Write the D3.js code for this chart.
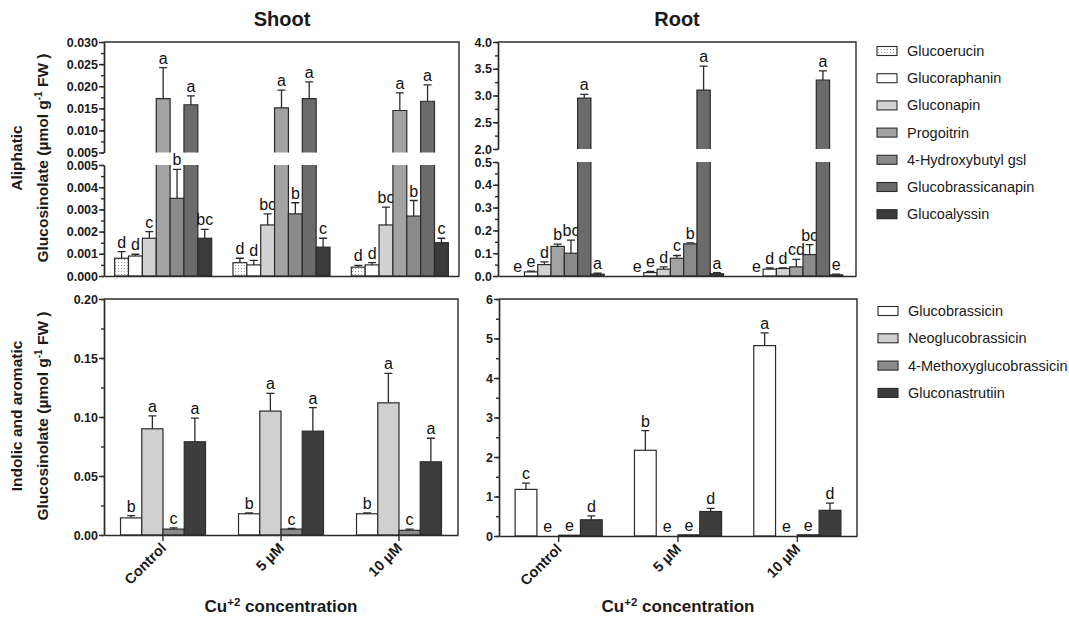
<!DOCTYPE html>
<html>
<head>
<meta charset="utf-8">
<script src="https://cdn.jsdelivr.net/npm/d3@7"></script>
<style>
body { margin: 0; background: #fff; }
svg { font-family: "Liberation Sans", Arial, sans-serif; }
</style>
</head>
<body>
<svg id="chart" width="1069" height="618"></svg>
<script>
var treatments = ["Control", "5 µM", "10 µM"];

var aliphaticNames = ["Glucoerucin", "Glucoraphanin", "Gluconapin", "Progoitrin",
    "4-Hydroxybutyl gsl", "Glucobrassicanapin", "Glucoalyssin"];
var indolicNames = ["Glucobrassicin", "Neoglucobrassicin", "4-Methoxyglucobrassicin", "Gluconastrutiin"];

// shoot, aliphatic (umol/g FW), one row per treatment
var shootAliMean = [
    [0.0008, 0.0009, 0.0017, 0.0172, 0.0035, 0.0158, 0.0017],
    [0.0006, 0.0005, 0.0023, 0.0151, 0.0028, 0.0172, 0.0013],
    [0.0004, 0.0005, 0.0023, 0.0145, 0.0027, 0.0166, 0.0015]
];
var shootAliErr = [
    [0.0003, 0.00008, 0.0003, 0.007, 0.0013, 0.002, 0.0004],
    [0.0002, 0.0002, 0.0005, 0.004, 0.0005, 0.0038, 0.0004],
    [0.00008, 0.0001, 0.0008, 0.004, 0.0007, 0.0037, 0.0002]
];
var shootAliLetters = [
    ["d", "d", "c", "a", "b", "a", "bc"],
    ["d", "d", "bc", "a", "b", "a", "c"],
    ["d", "d", "bc", "a", "b", "a", "c"]
];

// root, aliphatic
var rootAliMean = [
    [0, 0.018, 0.05, 0.13, 0.10, 2.95, 0.008],
    [0, 0.015, 0.03, 0.078, 0.141, 3.10, 0.01],
    [0, 0.03, 0.033, 0.04, 0.094, 3.29, 0.005]
];
var rootAliErr = [
    [0, 0.003, 0.012, 0.01, 0.057, 0.07, 0.004],
    [0, 0.005, 0.01, 0.012, 0.004, 0.45, 0.005],
    [0, 0.005, 0.002, 0.033, 0.044, 0.17, 0.003]
];
var rootAliLetters = [
    ["e", "e", "d", "b", "bc", "a", "a"],
    ["e", "e", "d", "c", "b", "a", "a"],
    ["e", "d", "d", "cd", "bc", "a", "e"]
];

// shoot, indolic and aromatic
var shootIndMean = [
    [0.0145, 0.090, 0.005, 0.079],
    [0.018, 0.105, 0.005, 0.088],
    [0.018, 0.112, 0.004, 0.062]
];
var shootIndErr = [
    [0.002, 0.011, 0.001, 0.02],
    [0.0007, 0.015, 0.0005, 0.02],
    [0.0007, 0.025, 0.001, 0.02]
];
var shootIndLetters = [
    ["b", "a", "c", "a"],
    ["b", "a", "c", "a"],
    ["b", "a", "c", "a"]
];

// root, indolic and aromatic
var rootIndMean = [
    [1.18, 0, 0.02, 0.41],
    [2.17, 0, 0.03, 0.62],
    [4.82, 0, 0.03, 0.65]
];
var rootIndErr = [
    [0.16, 0, 0, 0.1],
    [0.5, 0, 0, 0.08],
    [0.32, 0, 0, 0.18]
];
var rootIndLetters = [
    ["c", "e", "e", "d"],
    ["b", "e", "e", "d"],
    ["a", "e", "e", "d"]
];

// axis tick labels
var shootAliLowTicks = [0, 0.001, 0.002, 0.003, 0.004, 0.005];
var shootAliHighTicks = [0.005, 0.010, 0.015, 0.020, 0.025, 0.030];
var rootAliLowTicks = [0, 0.1, 0.2, 0.3, 0.4, 0.5];
var rootAliHighTicks = [2.0, 2.5, 3.0, 3.5, 4.0];
var shootIndTicks = [0, 0.05, 0.10, 0.15, 0.20];
var rootIndTicks = [0, 1, 2, 3, 4, 5, 6];

var aliColor = d3.scaleOrdinal()
    .domain(aliphaticNames)
    .range(["url(#dots)", "#ffffff", "#d2d2d2", "#a3a3a3", "#8a8a8a", "#6b6b6b", "#3b3b3b"]);
var indColor = d3.scaleOrdinal()
    .domain(indolicNames)
    .range(["#ffffff", "#d0d0d0", "#8b8b8b", "#3d3d3d"]);

var ink = "#2b2b2b";

var svg = d3.select("#chart");

var defs = svg.append("defs");
var pat = defs.append("pattern")
    .attr("id", "dots")
    .attr("width", 3)
    .attr("height", 3)
    .attr("patternUnits", "userSpaceOnUse");
pat.append("rect").attr("width", 3).attr("height", 3).attr("fill", "#fff");
pat.append("rect").attr("x", 1).attr("y", 1).attr("width", 1).attr("height", 1).attr("fill", "#9a9a9a");

function minorTicks(lo, hi, step)
{
    return d3.range(lo, hi + step / 2, step);
}

function styleAxis(g)
{
    g.selectAll("path, line").attr("stroke", ink).attr("stroke-width", 1.4);
    g.selectAll("text")
        .attr("fill", "#1a1a1a")
        .style("font-size", "12.5px")
        .style("font-weight", "bold");
}

function drawPanel(cfg)
{
    var g = svg.append("g");

    var x = d3.scaleBand()
        .domain(treatments)
        .range([cfg.left, cfg.right])
        .paddingInner(cfg.pad)
        .paddingOuter(cfg.pad / 2);

    var xi = d3.scaleBand()
        .domain(d3.range(cfg.names.length))
        .range([0, x.bandwidth()]);

    var brk = cfg.brk;
    var low = d3.scaleLinear()
        .domain([0, brk ? brk.lowMax : cfg.max])
        .range([cfg.bottom, brk ? brk.lowTop : cfg.top]);
    var high = brk ? d3.scaleLinear()
        .domain([brk.highMin, cfg.max])
        .range([brk.highBottom, cfg.top]) : null;

    var yOf = function(v)
    {
        if (!brk || v <= brk.lowMax) return low(v);
        return high(Math.max(v, brk.highMin));
    };

    // frame: top and right
    g.append("path")
        .attr("d", "M" + cfg.left + "," + cfg.top + "H" + cfg.right + "V" + cfg.bottom)
        .attr("fill", "none")
        .attr("stroke", ink)
        .attr("stroke-width", 1.4);

    // bars
    treatments.forEach(function(t, i)
    {
        cfg.names.forEach(function(name, j)
        {
            var m = cfg.mean[i][j];
            var e = cfg.err[i][j];
            var bx = x(t) + xi(j);
            var bw = xi.bandwidth();
            var fill = cfg.color(name);

            if (m > 0)
            {
                if (brk && m > brk.lowMax)
                {
                    var lt = low(brk.lowMax), hb = high(brk.highMin), ht = high(m);
                    g.append("rect").attr("x", bx).attr("y", lt).attr("width", bw)
                        .attr("height", cfg.bottom - lt).attr("fill", fill);
                    g.append("rect").attr("x", bx).attr("y", ht).attr("width", bw)
                        .attr("height", hb - ht).attr("fill", fill);
                    g.append("path")
                        .attr("d", "M" + bx + "," + lt + "V" + cfg.bottom + "H" + (bx + bw) + "V" + lt +
                            "M" + bx + "," + hb + "V" + ht + "H" + (bx + bw) + "V" + hb)
                        .attr("fill", "none").attr("stroke", ink).attr("stroke-width", 1.2);
                }
                else
                {
                    g.append("rect").attr("x", bx).attr("y", low(m)).attr("width", bw)
                        .attr("height", cfg.bottom - low(m)).attr("fill", fill)
                        .attr("stroke", ink).attr("stroke-width", 1.2);
                }
            }

            var cx = bx + bw / 2;
            var capY = yOf(m + e);
            if (e > 0)
            {
                g.append("path")
                    .attr("d", "M" + cx + "," + yOf(m) + "V" + capY + "M" + (cx - 4) + "," + capY + "H" + (cx + 4))
                    .attr("fill", "none").attr("stroke", ink).attr("stroke-width", 1.3);
            }

            g.append("text")
                .attr("x", cx)
                .attr("y", capY - 4)
                .attr("text-anchor", "middle")
                .style("font-size", "16px")
                .attr("fill", "#111")
                .text(cfg.letters[i][j]);
        });
    });

    // x axis line
    var xa = g.append("g")
        .attr("transform", "translate(0," + cfg.bottom + ")")
        .call(d3.axisBottom(x).tickSize(cfg.xTicks ? 6 : 0).tickSizeOuter(0).tickFormat(""));
    styleAxis(xa);

    if (cfg.xTicks)
    {
        g.selectAll(".xlab")
            .data(treatments)
            .enter().append("text")
            .attr("transform", function(d) { return "translate(" + (x(d) + x.bandwidth() / 2 + 4) + "," + (cfg.bottom + 14) + ") rotate(-45)"; })
            .attr("text-anchor", "end")
            .style("font-size", "14.5px")
            .style("font-weight", "bold")
            .attr("fill", "#1a1a1a")
            .text(function(d) { return d; });
    }

    // y axes
    var segs = brk ? [
        { s: low, ticks: cfg.lowTicks, step: cfg.lowMinor },
        { s: high, ticks: cfg.highTicks, step: cfg.highMinor }
    ] : [
        { s: low, ticks: cfg.lowTicks, step: cfg.lowMinor }
    ];

    segs.forEach(function(seg)
    {
        var dom = seg.s.domain();
        var minor = g.append("g")
            .attr("transform", "translate(" + cfg.left + ",0)")
            .call(d3.axisLeft(seg.s).tickValues(minorTicks(dom[0], dom[1], seg.step))
                .tickSize(3).tickSizeOuter(0).tickFormat(""));
        styleAxis(minor);
        var major = g.append("g")
            .attr("transform", "translate(" + cfg.left + ",0)")
            .call(d3.axisLeft(seg.s).tickValues(seg.ticks)
                .tickSize(5).tickSizeOuter(0).tickPadding(1).tickFormat(d3.format(cfg.fmt)));
        styleAxis(major);
    });

    return g;
}

function drawLegend(names, color, x, y0, step)
{
    var g = svg.append("g");
    var item = g.selectAll("g")
        .data(names)
        .enter().append("g")
        .attr("transform", function(d, i) { return "translate(" + x + "," + (y0 + i * step) + ")"; });

    item.append("rect")
        .attr("x", 0).attr("y", -4.5)
        .attr("width", 20).attr("height", 9)
        .attr("fill", function(d) { return color(d); })
        .attr("stroke", ink)
        .attr("stroke-width", 1.1);

    item.append("text")
        .attr("x", 30)
        .attr("y", 5)
        .style("font-size", "14.5px")
        .attr("fill", "#1a1a1a")
        .text(function(d) { return d; });
}

function yTitle(lines, cx, cy)
{
    var t = svg.append("text")
        .attr("transform", "translate(" + cx + "," + cy + ") rotate(-90)")
        .attr("text-anchor", "middle")
        .style("font-size", "15.5px")
        .style("font-weight", "bold")
        .attr("fill", "#1a1a1a");
    lines.forEach(function(line, i)
    {
        var ts = t.append("tspan").attr("x", 0).attr("y", i * 26);
        line.forEach(function(part)
        {
            var p = ts.append("tspan").text(part.t);
            if (part.sup) p.attr("dy", -6).style("font-size", "10px");
            if (part.back) p.attr("dy", 6);
        });
    });
}

function xTitle(cx, cy)
{
    var t = svg.append("text")
        .attr("x", cx).attr("y", cy)
        .attr("text-anchor", "middle")
        .style("font-size", "17px")
        .style("font-weight", "bold")
        .attr("fill", "#1a1a1a");
    t.append("tspan").text("Cu");
    t.append("tspan").attr("dy", -6).style("font-size", "11.5px").text("+2");
    t.append("tspan").attr("dy", 6).text(" concentration");
}

drawPanel({
    left: 104, right: 459, top: 42, bottom: 276, pad: 0.18,
    names: aliphaticNames, color: aliColor,
    mean: shootAliMean, err: shootAliErr, letters: shootAliLetters,
    max: 0.030, brk: { lowMax: 0.005, lowTop: 165, highMin: 0.005, highBottom: 152.5 },
    lowTicks: shootAliLowTicks, lowMinor: 0.0005,
    highTicks: shootAliHighTicks, highMinor: 0.0025,
    fmt: ".3f", xTicks: false
});

drawPanel({
    left: 498, right: 856, top: 42, bottom: 276, pad: 0.22,
    names: aliphaticNames, color: aliColor,
    mean: rootAliMean, err: rootAliErr, letters: rootAliLetters,
    max: 4.0, brk: { lowMax: 0.5, lowTop: 162, highMin: 2.0, highBottom: 149 },
    lowTicks: rootAliLowTicks, lowMinor: 0.05,
    highTicks: rootAliHighTicks, highMinor: 0.25,
    fmt: ".1f", xTicks: false
});

drawPanel({
    left: 104, right: 458, top: 299, bottom: 535, pad: 0.28,
    names: indolicNames, color: indColor,
    mean: shootIndMean, err: shootIndErr, letters: shootIndLetters,
    max: 0.20, lowTicks: shootIndTicks, lowMinor: 0.025,
    fmt: ".2f", xTicks: true
});

drawPanel({
    left: 499, right: 857, top: 299, bottom: 536, pad: 0.27,
    names: indolicNames, color: indColor,
    mean: rootIndMean, err: rootIndErr, letters: rootIndLetters,
    max: 6, lowTicks: rootIndTicks, lowMinor: 0.5,
    fmt: "d", xTicks: true
});

drawLegend(aliphaticNames, aliColor, 877, 51, 27.2);
drawLegend(indolicNames, indColor, 878, 311, 27.3);

svg.append("text").attr("x", 282).attr("y", 26).attr("text-anchor", "middle")
    .style("font-size", "20px").style("font-weight", "bold").attr("fill", "#1a1a1a").text("Shoot");
svg.append("text").attr("x", 677).attr("y", 26).attr("text-anchor", "middle")
    .style("font-size", "20px").style("font-weight", "bold").attr("fill", "#1a1a1a").text("Root");

var unitLine = [{ t: "Glucosinolate (µmol g" }, { t: "-1", sup: true }, { t: " FW )", back: true }];
yTitle([[{ t: "Aliphatic" }], unitLine], 22, 158);
yTitle([[{ t: "Indolic and aromatic" }], unitLine], 22, 416);

xTitle(281, 612);
xTitle(678, 612);
</script>
</body>
</html>
